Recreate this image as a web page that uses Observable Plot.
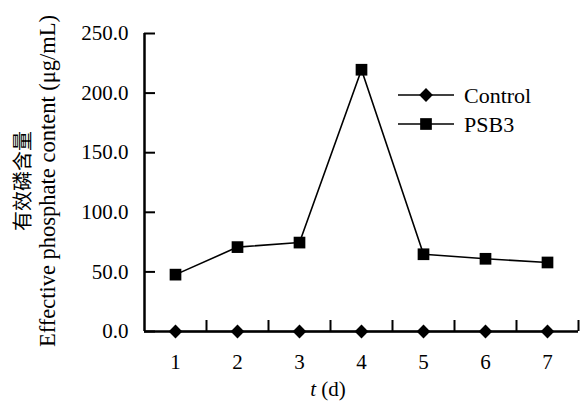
<!DOCTYPE html>
<html>
<head>
<meta charset="utf-8">
<script src="https://cdn.jsdelivr.net/npm/d3@7"></script>
<script src="https://cdn.jsdelivr.net/npm/@observablehq/plot@0.6"></script>
<style>
  html, body { margin: 0; padding: 0; background: #fff; }
  #chart { width: 581px; height: 405px; }
</style>
</head>
<body>
<div id="chart"></div>
<script>
// ---- data ----
const days = [1, 2, 3, 4, 5, 6, 7];
const controlValues = [0, 0, 0, 0, 0, 0, 0];
const psb3Values = [47.7, 70.8, 74.6, 219.6, 64.8, 61.0, 57.9];
const yTicks = [0, 50, 100, 150, 200, 250];
const seriesNames = ["Control", "PSB3"];
const yLabelZh = "有效磷含量";
const yLabelEn = "Effective phosphate content (μg/mL)";

const control = days.map((d, i) => ({day: d, value: controlValues[i]}));
const psb3 = days.map((d, i) => ({day: d, value: psb3Values[i]}));
const xBounds = days.map(d => d + 0.5);

const W = 581, H = 405;
const serif = "'Liberation Serif', 'Times New Roman', serif";
const marginLeft = 144, marginRight = 3;
const plotW = W - marginLeft - marginRight;

const chart = Plot.plot({
  width: W,
  height: H,
  marginLeft,
  marginRight,
  marginTop: 33,
  marginBottom: 74,
  style: {fontFamily: serif, fontSize: "21px", background: "#fff", color: "#000", overflow: "visible"},
  x: {type: "linear", domain: [0.5, 7.5], axis: null},
  y: {domain: [0, 250], axis: null},
  marks: [
    Plot.axisY({ticks: yTicks, tickSize: 0, tickPadding: 16, tickFormat: d3.format(".1f"), label: null, fontSize: 21, fontFamily: serif}),
    Plot.tickY(yTicks, {y: d => d, stroke: "#000", strokeWidth: 2, insetRight: plotW - 11}),
    Plot.axisX({ticks: days, tickSize: 0, tickPadding: 23, tickFormat: d => String(d), label: null, fontSize: 21, fontFamily: serif}),
    Plot.tickX(xBounds, {x: d => d, stroke: "#000", strokeWidth: 2, insetTop: 298 - 11}),
    Plot.ruleX([0.5], {stroke: "#000", strokeWidth: 2.5}),
    Plot.ruleY([0], {stroke: "#000", strokeWidth: 2.5}),
    // series
    Plot.line(psb3, {x: "day", y: "value", stroke: "#000", strokeWidth: 1.6}),
    Plot.dot(psb3, {x: "day", y: "value", symbol: "square", r: 6.6, fill: "#000", stroke: "none"}),
    Plot.line(control, {x: "day", y: "value", stroke: "#000", strokeWidth: 1.6}),
    Plot.dot(control, {x: "day", y: "value", symbol: "diamond2", r: 6.2, fill: "#000", stroke: "none"})
  ]
});

document.getElementById("chart").appendChild(chart);

// axis titles and legend
const svg = d3.select(chart);
const yMid = 181;
const yl = svg.append("g").attr("fill", "#000");
yl.append("text")
  .attr("transform", `translate(30,${yMid}) rotate(-90)`)
  .attr("text-anchor", "middle")
  .style("font-family", "'Noto Sans CJK SC', sans-serif")
  .style("font-size", "20px")
  .text(yLabelZh);
yl.append("text")
  .attr("transform", `translate(55,${yMid}) rotate(-90)`)
  .attr("text-anchor", "middle")
  .style("font-family", serif)
  .style("font-size", "22.5px")
  .text(yLabelEn);

const xl = svg.append("text")
  .attr("x", 328).attr("y", 396)
  .attr("text-anchor", "middle")
  .style("font-family", serif)
  .style("font-size", "21px")
  .attr("fill", "#000");
xl.append("tspan").style("font-style", "italic").text("t");
xl.append("tspan").text(" (d)");

const legendSymbols = [d3.symbolDiamond2, d3.symbolSquare];
const legendSizes = [Math.PI * 6.2 * 6.2, Math.PI * 6.6 * 6.6];
const lg = svg.append("g");
seriesNames.forEach((name, i) => {
  const y = 95 + i * 29;
  lg.append("line").attr("x1", 398).attr("x2", 454).attr("y1", y).attr("y2", y)
    .attr("stroke", "#000").attr("stroke-width", 1.6);
  lg.append("path").attr("d", d3.symbol(legendSymbols[i], legendSizes[i])())
    .attr("transform", `translate(426,${y})`).attr("fill", "#000");
  lg.append("text").attr("x", 464).attr("y", y).attr("dy", "0.35em")
    .attr("text-anchor", "start")
    .style("font-family", serif).style("font-size", "22px").attr("fill", "#000")
    .text(name);
});
</script>
</body>
</html>
